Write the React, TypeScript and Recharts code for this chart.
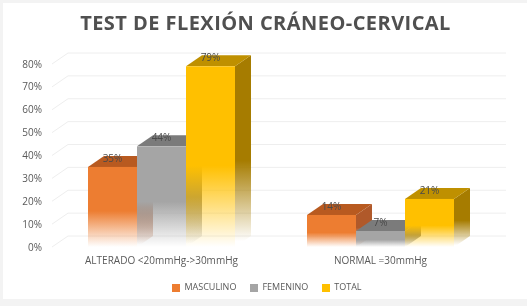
import { BarChart, Bar, XAxis, YAxis, CartesianGrid, Legend, LabelList } from 'recharts';

const categories = ['ALTERADO <20mmHg->30mmHg', 'NORMAL =30mmHg'];
const masculino = [35, 14];
const femenino = [44, 7];
const total = [79, 21];
const yTicks = [0, 10, 20, 30, 40, 50, 60, 70, 80];
const legendOrder = ['MASCULINO', 'FEMENINO', 'TOTAL'];

const data = categories.map((name, i) => ({
  name,
  masculino: masculino[i],
  femenino: femenino[i],
  total: total[i],
}));

const DX = 16;
const DY = 11;
const font = '"Open Sans", sans-serif';

// front, side and top faces of a 3D column
function makeColumn(id: string, top: string) {
  return function Column(props: any) {
    const { x, y, width, height } = props;
    const r = x + width;
    const b = y + height;
    return (
      <g>
        <polygon
          points={`${r},${y} ${r + DX},${y - DY} ${r + DX},${b - DY} ${r},${b}`}
          fill={`url(#side-${id})`}
        />
        <polygon
          points={`${x},${y} ${x + DX},${y - DY} ${r + DX},${y - DY} ${r},${y}`}
          fill={top}
        />
        <rect x={x} y={y} width={width} height={height} fill={`url(#front-${id})`} />
      </g>
    );
  };
}

function faceGradients(id: string, front: string, side: string) {
  return (
    <>
      <linearGradient id={`front-${id}`} x1="0" y1="0" x2="0" y2="1">
        <stop offset="55%" stopColor={front} stopOpacity={1} />
        <stop offset="100%" stopColor={front} stopOpacity={0} />
      </linearGradient>
      <linearGradient id={`side-${id}`} x1="0" y1="0" x2="0" y2="1">
        <stop offset="55%" stopColor={side} stopOpacity={1} />
        <stop offset="97%" stopColor={side} stopOpacity={0} />
      </linearGradient>
    </>
  );
}

const backLine = (props: any) => {
  const { x1, x2, y1, key } = props;
  return (
    <polyline
      key={key}
      points={`${x1},${y1} ${x1 + DX},${y1 - DY} ${x2 + DX},${y1 - DY}`}
      fill="none"
      stroke="#eeeeee"
      strokeWidth={1}
    />
  );
};

const labelStyle = { fontSize: 10, fontFamily: font, fill: '#4a4a4a' };
const fmt = (v: any) => `${v}%`;

export default function App() {
  return (
    <div
      style={{
        position: 'absolute',
        left: 0,
        top: 0,
        width: 527,
        height: 306,
        background: '#f3f3f3',
        overflow: 'hidden',
      }}
    >
      <div
        style={{
          position: 'absolute',
          left: 3,
          top: 3,
          width: 524,
          height: 296,
          background: '#ffffff',
          filter: 'blur(0.4px)',
        }}
      >
        <div
          style={{
            position: 'absolute',
            left: -1,
            top: 6,
            width: 527,
            textAlign: 'center',
            fontFamily: font,
            fontWeight: 700,
            fontSize: 20,
            letterSpacing: 0.45,
            color: '#505050',
            whiteSpace: 'nowrap',
          }}
        >
          TEST DE FLEXIÓN CRÁNEO-CERVICAL
        </div>
        <div style={{ position: 'absolute', left: -3, top: -3 }}>
          <BarChart
            width={527}
            height={306}
            data={data}
            margin={{ top: 64, right: 37, bottom: 16, left: 0 }}
            barCategoryGap={36}
            barGap={0}
          >
            <defs>
              {faceGradients('m', '#ED7D31', '#B0592A')}
              {faceGradients('f', '#A5A5A5', '#7C7C7C')}
              {faceGradients('t', '#FFC000', '#A67C00')}
            </defs>
            <CartesianGrid vertical={false} horizontal={backLine} syncWithTicks />
            <XAxis
              dataKey="name"
              height={30}
              axisLine={false}
              tickLine={false}
              tickMargin={4}
              interval={0}
              tick={{ fontSize: 10, fontFamily: font, fill: '#595959' }}
            />
            <YAxis
              width={52}
              domain={[0, 80]}
              ticks={yTicks}
              interval={0}
              axisLine={false}
              tickLine={false}
              tickMargin={4}
              tickFormatter={fmt}
              tick={{ fontSize: 10, fontFamily: font, fill: '#595959' }}
            />
            <Legend
              verticalAlign="bottom"
              iconType="square"
              iconSize={8}
              itemSorter={(item: any) => legendOrder.indexOf(item.value)}
              wrapperStyle={{ fontSize: 9, fontFamily: font, bottom: 13, left: 29 }}
              formatter={(value: string) => <span style={{ color: '#595959', paddingRight: 4 }}>{value}</span>}
            />
            <Bar dataKey="masculino" name="MASCULINO" fill="#ED7D31" shape={makeColumn('m', '#B85A20')} isAnimationActive={false}>
              <LabelList dataKey="masculino" position="top" offset={5} formatter={fmt} style={labelStyle} />
            </Bar>
            <Bar dataKey="femenino" name="FEMENINO" fill="#A5A5A5" shape={makeColumn('f', '#7B7B7B')} isAnimationActive={false}>
              <LabelList dataKey="femenino" position="top" offset={5} formatter={fmt} style={labelStyle} />
            </Bar>
            <Bar dataKey="total" name="TOTAL" fill="#FFC000" shape={makeColumn('t', '#BF9000')} isAnimationActive={false}>
              <LabelList dataKey="total" position="top" offset={5} formatter={fmt} style={labelStyle} />
            </Bar>
          </BarChart>
        </div>
      </div>
    </div>
  );
}
